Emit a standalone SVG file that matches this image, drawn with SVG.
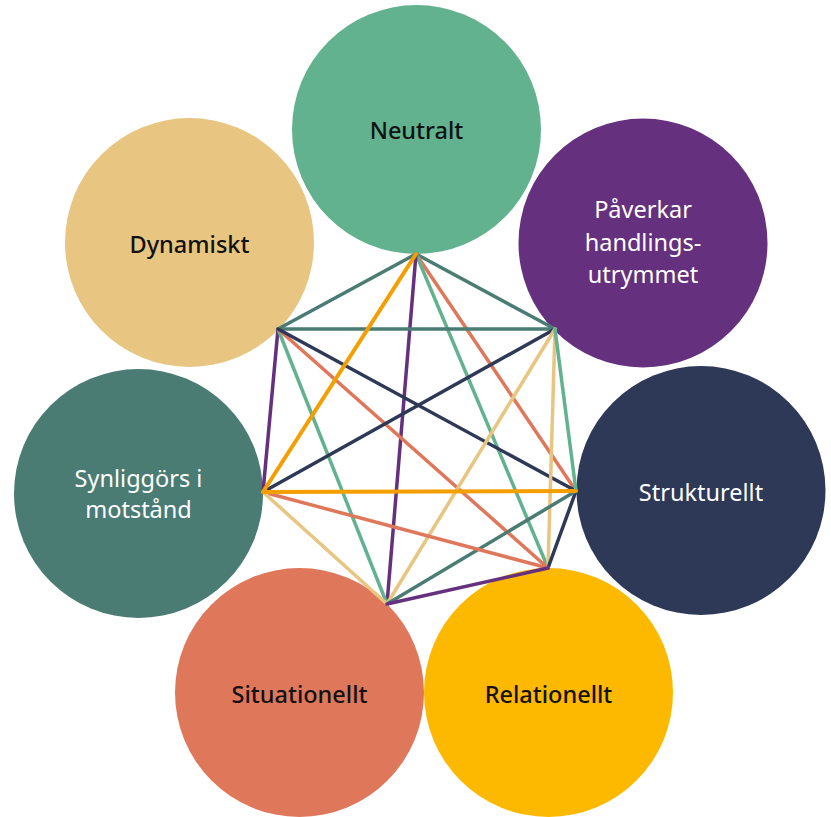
<svg xmlns="http://www.w3.org/2000/svg" width="831" height="817" viewBox="0 0 831 817">
<style>
.lbl{font-family:"Noto Sans","DejaVu Sans",sans-serif;font-size:23.5px;text-anchor:middle}
.dk{fill:#111111;font-weight:500}
.lt{fill:#ffffff}
.e{fill:none;stroke-width:3.5;stroke-linecap:round}
.teal{stroke:#4a7c74}.green{stroke:#62b28f}.purple{stroke:#65317e}.navy{stroke:#2e3857}
.salmon{stroke:#df775b}.tan{stroke:#e8c581}.amber{stroke:#f59e00;stroke-width:4}
</style>
<rect width="831" height="817" fill="#ffffff"/>
<g id="node-neutralt">
<circle cx="416.5" cy="129.5" r="124.5" fill="#62b28f"/>
<text class="lbl dk" x="416.5" y="139">Neutralt</text>
</g>
<g id="node-paverkar">
<circle cx="643" cy="243" r="124.5" fill="#65317e"/>
<text class="lbl lt" x="643" y="218">Påverkar</text>
<text class="lbl lt" x="643" y="251">handlings-</text>
<text class="lbl lt" x="643" y="283">utrymmet</text>
</g>
<g id="node-strukturellt">
<circle cx="701" cy="490.5" r="124.5" fill="#2e3857"/>
<text class="lbl lt" x="701" y="501">Strukturellt</text>
</g>
<g id="node-relationellt">
<circle cx="548.5" cy="692.5" r="124.5" fill="#fdb900"/>
<text class="lbl dk" x="548.5" y="703">Relationellt</text>
</g>
<g id="node-situationellt">
<circle cx="299.5" cy="692.5" r="124.5" fill="#df775b"/>
<text class="lbl dk" x="299.5" y="703">Situationellt</text>
</g>
<g id="node-synliggors">
<circle cx="138.5" cy="493.5" r="124.5" fill="#4a7c74"/>
<text class="lbl lt" x="138.5" y="487">Synliggörs i</text>
<text class="lbl lt" x="138.5" y="518">motstånd</text>
</g>
<g id="node-dynamiskt">
<circle cx="189.5" cy="242.5" r="124.5" fill="#e8c581"/>
<text class="lbl dk" x="189.5" y="253">Dynamiskt</text>
</g>
<g id="connectors">
<line class="e teal" x1="416" y1="254" x2="278" y2="329"/>
<line class="e teal" x1="416" y1="254" x2="555" y2="329"/>
<line class="e salmon" x1="416" y1="254" x2="576" y2="491"/>
<line class="e green" x1="416" y1="254" x2="548" y2="568"/>
<line class="e purple" x1="416" y1="254" x2="387" y2="604"/>
<line class="e teal" x1="278" y1="329" x2="555" y2="329"/>
<line class="e purple" x1="278" y1="329" x2="263" y2="492"/>
<line class="e green" x1="278" y1="329" x2="387" y2="604"/>
<line class="e salmon" x1="278" y1="329" x2="548" y2="568"/>
<line class="e navy" x1="278" y1="329" x2="576" y2="491"/>
<line class="e navy" x1="555" y1="329" x2="263" y2="492"/>
<line class="e tan" x1="555" y1="329" x2="387" y2="604"/>
<line class="e tan" x1="555" y1="329" x2="548" y2="568"/>
<line class="e green" x1="555" y1="329" x2="576" y2="491"/>
<line class="e navy" x1="576" y1="491" x2="548" y2="568"/>
<line class="e teal" x1="576" y1="491" x2="387" y2="604"/>
<line class="e salmon" x1="263" y1="492" x2="548" y2="568"/>
<line class="e tan" x1="263" y1="492" x2="387" y2="604"/>
<line class="e purple" x1="387" y1="604" x2="548" y2="568"/>
<line class="e amber" x1="416" y1="254" x2="263" y2="492"/>
<line class="e amber" x1="263" y1="492" x2="576" y2="491"/>
</g>
</svg>
